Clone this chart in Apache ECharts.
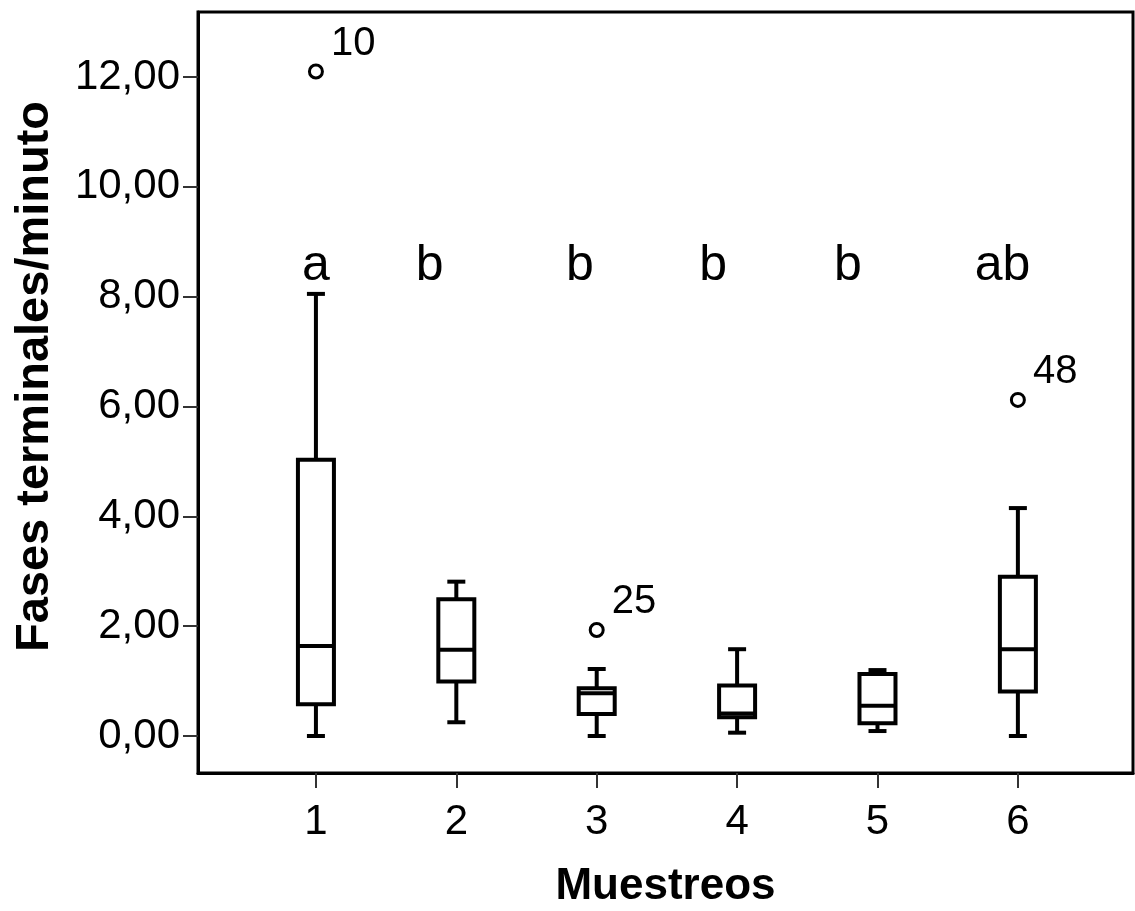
<!DOCTYPE html>
<html>
<head>
<meta charset="utf-8">
<script src="https://cdn.jsdelivr.net/npm/echarts@6/dist/echarts.min.js"></script>
<style>
html,body{margin:0;padding:0;background:#fff;}
#chart{width:1135px;height:911px;}
</style>
</head>
<body>
<div id="chart"></div>
<script>
// ---- data ----
const categories = [1, 2, 3, 4, 5, 6];
const boxMin    = [0.00, 0.25, 0.00, 0.06, 0.09, 0.00];
const boxQ1     = [0.58, 0.99, 0.40, 0.34, 0.23, 0.81];
const boxMedian = [1.64, 1.57, 0.78, 0.41, 0.55, 1.58];
const boxQ3     = [5.03, 2.49, 0.87, 0.92, 1.13, 2.90];
const boxMax    = [8.05, 2.81, 1.22, 1.58, 1.20, 4.15];
const outlierX     = [1, 3, 6];
const outlierY     = [12.10, 1.93, 6.12];
const outlierLabel = ['10', '25', '48'];
const letterText = ['a', 'b', 'b', 'b', 'b', 'ab'];
const letterX    = [1.00, 1.81, 2.88, 3.83, 4.79, 5.89];
const letterY    = [8.56, 8.56, 8.56, 8.56, 8.56, 8.56];
const yTicks = [0, 2, 4, 6, 8, 10, 12];

const FONT = 'Liberation Sans, Arial, sans-serif';
const chart = echarts.init(document.getElementById('chart'), null, {renderer: 'canvas'});

const boxData = categories.map((c, i) => [c, boxMin[i], boxQ1[i], boxMedian[i], boxQ3[i], boxMax[i]]);
const outlierData = outlierX.map((x, i) => ({value: [x, outlierY[i]], name: outlierLabel[i]}));
const letterData = letterX.map((x, i) => ({value: [x, letterY[i]], name: letterText[i]}));

const BOX_HALF = 18, CAP_HALF = 9, LW = 4;

function renderBox(params, api) {
  const x = api.value(0);
  const pMin = api.coord([x, api.value(1)]);
  const pQ1 = api.coord([x, api.value(2)]);
  const pMed = api.coord([x, api.value(3)]);
  const pQ3 = api.coord([x, api.value(4)]);
  const pMax = api.coord([x, api.value(5)]);
  const cx = pMin[0];
  const st = {stroke: '#000', lineWidth: LW, fill: null};
  return {
    type: 'group',
    children: [
      {type: 'line', shape: {x1: cx, y1: pQ3[1], x2: cx, y2: pMax[1]}, style: st},
      {type: 'line', shape: {x1: cx, y1: pQ1[1], x2: cx, y2: pMin[1]}, style: st},
      {type: 'line', shape: {x1: cx - CAP_HALF, y1: pMax[1], x2: cx + CAP_HALF, y2: pMax[1]}, style: st},
      {type: 'line', shape: {x1: cx - CAP_HALF, y1: pMin[1], x2: cx + CAP_HALF, y2: pMin[1]}, style: st},
      {type: 'rect', shape: {x: cx - BOX_HALF, y: pQ3[1], width: 2 * BOX_HALF, height: pQ1[1] - pQ3[1]},
        style: {stroke: '#000', lineWidth: LW, fill: '#fff'}},
      {type: 'line', shape: {x1: cx - BOX_HALF, y1: pMed[1], x2: cx + BOX_HALF, y2: pMed[1]}, style: st}
    ]
  };
}

const option = {
  backgroundColor: '#fff',
  animation: false,
  grid: {
    left: 198, right: 2, top: 12, bottom: 138,
    outerBoundsMode: 'none',
    containLabel: false,
    show: true, borderColor: '#000', borderWidth: 3, backgroundColor: 'transparent'
  },
  xAxis: {
    type: 'value',
    min: 0.16, max: 6.82,
    name: 'Muestreos',
    nameLocation: 'middle',
    nameGap: 92,
    nameTextStyle: {fontFamily: FONT, fontSize: 44, fontWeight: 'bold', color: '#000'},
    axisLine: {show: true, onZero: false, lineStyle: {color: '#000', width: 3}},
    axisTick: {show: true, length: 15, customValues: categories, lineStyle: {color: '#333', width: 2}},
    axisLabel: {customValues: categories, fontFamily: FONT, fontSize: 42, color: '#000', margin: 28},
    splitLine: {show: false}
  },
  yAxis: {
    type: 'value',
    min: -0.674, max: 13.183,
    name: 'Fases terminales/minuto',
    nameLocation: 'middle',
    nameGap: 139,
    nameRotate: 90,
    nameTextStyle: {fontFamily: FONT, fontSize: 47, fontWeight: 'bold', color: '#000', padding: [0, 0, 0, 32]},
    axisLine: {show: true, onZero: false, lineStyle: {color: '#000', width: 3}},
    axisTick: {show: true, length: 15, customValues: yTicks, lineStyle: {color: '#333', width: 2}},
    axisLabel: {
      customValues: yTicks, fontFamily: FONT, fontSize: 42, color: '#000', margin: 18,
      formatter: v => v.toFixed(2).replace('.', ',')
    },
    splitLine: {show: false}
  },
  series: [
    {
      type: 'custom',
      renderItem: renderBox,
      data: boxData,
      encode: {x: 0, y: [1, 2, 3, 4, 5]},
      z: 3
    },
    {
      type: 'scatter',
      data: outlierData,
      symbol: 'circle',
      symbolSize: 13,
      itemStyle: {color: '#fff', borderColor: '#000', borderWidth: 3, opacity: 1},
      label: {
        show: true, position: 'right', distance: 7, offset: [0, -28],
        formatter: p => p.name,
        fontFamily: FONT, fontSize: 40, color: '#000'
      },
      z: 4
    },
    {
      type: 'scatter',
      data: letterData,
      symbolSize: 0,
      itemStyle: {opacity: 1},
      label: {
        show: true, position: 'inside',
        formatter: p => p.name,
        fontFamily: FONT, fontSize: 50, color: '#000'
      },
      z: 4
    }
  ]
};
chart.setOption(option);
</script>
</body>
</html>
